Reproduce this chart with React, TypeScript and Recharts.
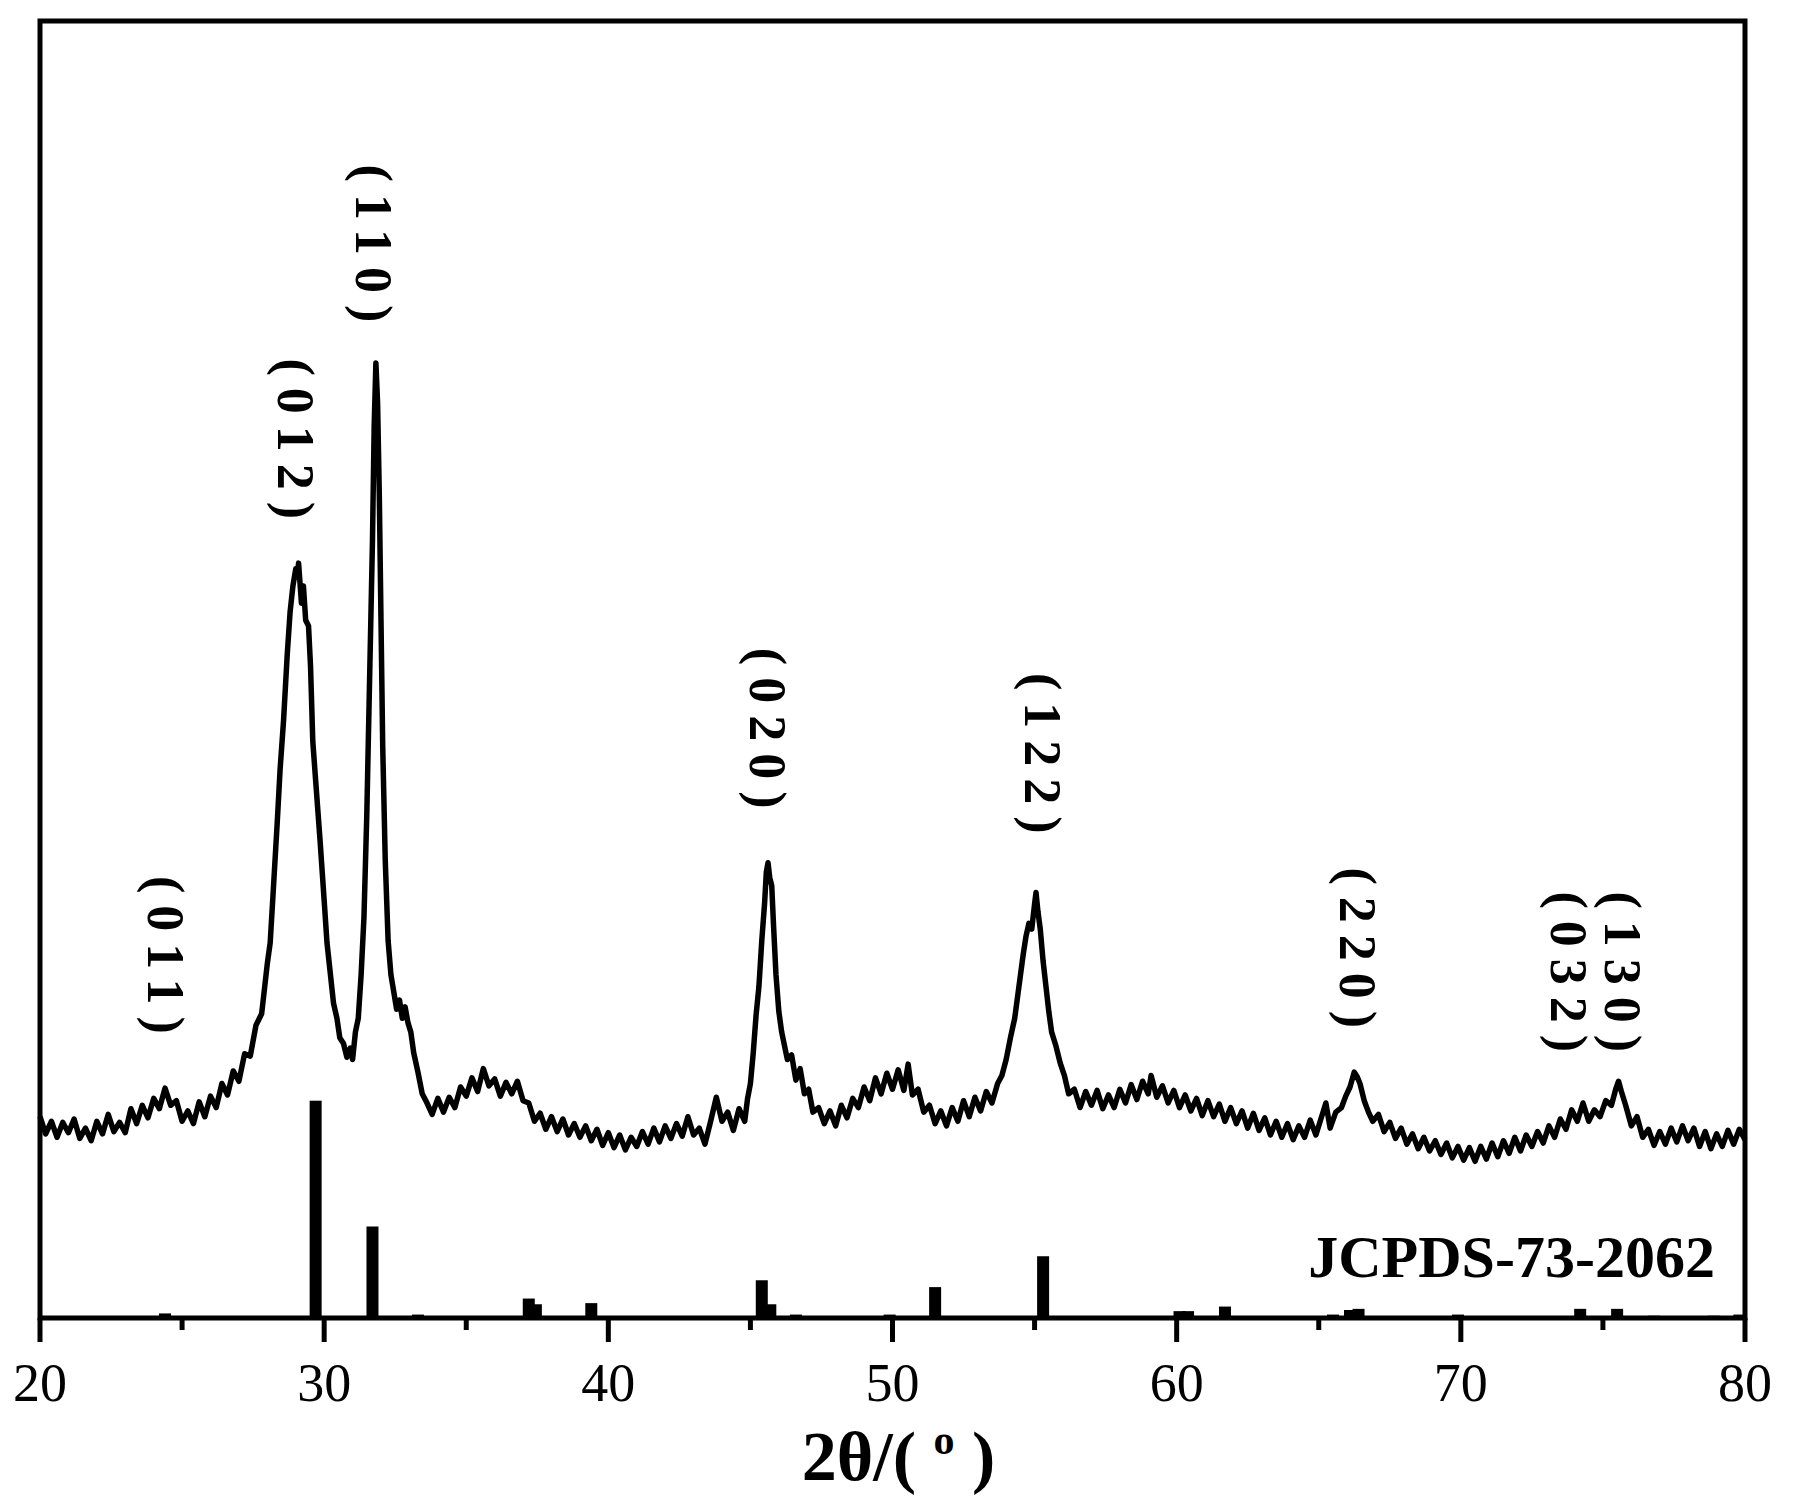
import { Bar, ComposedChart, Line, ReferenceArea, Scatter, XAxis, YAxis } from "recharts";

// measured XRD scan, 2θ (deg) vs intensity (a.u.)
const scanLow: [number, number][] = [
  [20.0, 176], [20.2, 161], [20.4, 172], [20.6, 158], [20.8, 171], [21.0, 162], [21.2, 174], [21.4, 157],
  [21.6, 166], [21.8, 155], [22.0, 172], [22.2, 161], [22.4, 178], [22.6, 163], [22.8, 171], [23.0, 162],
  [23.2, 183], [23.4, 170], [23.6, 186], [23.8, 175], [24.0, 192], [24.2, 183], [24.4, 201], [24.6, 186],
  [24.8, 190], [25.0, 172], [25.2, 181], [25.4, 170], [25.6, 189], [25.8, 176], [26.0, 194], [26.2, 184],
  [26.4, 205], [26.6, 195], [26.8, 216], [27.0, 207], [27.2, 231], [27.4, 229], [27.6, 256], [27.8, 266],
  [28.0, 310], [28.1, 328], [28.2, 370], [28.35, 434], [28.45, 480], [28.57, 522], [28.7, 580], [28.8, 617],
  [28.9, 640], [29.0, 655], [29.05, 648], [29.1, 660], [29.2, 625], [29.27, 640], [29.35, 610], [29.45, 605],
  [29.52, 570], [29.6, 504], [29.7, 470], [29.86, 416], [30.0, 365], [30.1, 328], [30.2, 305], [30.33, 275],
  [30.45, 262], [30.55, 245], [30.68, 240], [30.8, 228], [30.92, 236], [31.0, 226], [31.1, 250], [31.2, 262],
  [31.3, 300], [31.4, 350], [31.5, 440], [31.6, 560], [31.7, 680], [31.76, 780], [31.82, 835], [31.88, 800],
  [31.94, 720], [32.0, 610], [32.06, 500], [32.15, 400], [32.25, 330], [32.35, 300], [32.45, 285], [32.55, 270],
  [32.65, 278], [32.75, 262], [32.85, 272], [32.95, 258], [33.05, 250], [33.15, 232], [33.3, 215], [33.45, 196],
];

const scanMid: [number, number][] = [
  [33.6, 189], [33.8, 178], [34.0, 192], [34.2, 180], [34.4, 193], [34.6, 184], [34.8, 202], [35.0, 194],
  [35.2, 210], [35.4, 198], [35.6, 218], [35.8, 203], [36.0, 209], [36.2, 194], [36.4, 206], [36.6, 196],
  [36.8, 207], [37.0, 190], [37.2, 188], [37.4, 172], [37.6, 179], [37.8, 165], [38.0, 176], [38.2, 163],
  [38.4, 174], [38.6, 160], [38.8, 170], [39.0, 158], [39.2, 168], [39.4, 155], [39.6, 165], [39.8, 151],
  [40.0, 162], [40.2, 149], [40.4, 160], [40.6, 147], [40.8, 158], [41.0, 150], [41.2, 163], [41.4, 152],
  [41.6, 166], [41.8, 154], [42.0, 168], [42.2, 157], [42.4, 170], [42.6, 159], [42.8, 176], [43.0, 160],
  [43.2, 166], [43.4, 152], [43.6, 172], [43.8, 193], [44.0, 172], [44.2, 180], [44.4, 164], [44.6, 183],
  [44.8, 172], [44.9, 192], [45.0, 205], [45.1, 232], [45.2, 265], [45.3, 290], [45.4, 330], [45.5, 363],
  [45.56, 390], [45.62, 398], [45.68, 385], [45.75, 378], [45.82, 340], [45.9, 300], [46.0, 268], [46.1, 250],
  [46.2, 238], [46.3, 226], [46.45, 230], [46.6, 208], [46.75, 218], [46.9, 196], [47.05, 200], [47.2, 180],
  [47.4, 184], [47.6, 170], [47.8, 181], [48.0, 168], [48.2, 186], [48.4, 175], [48.6, 192], [48.8, 184],
  [49.0, 202], [49.2, 190], [49.4, 210], [49.6, 196], [49.8, 214], [50.0, 200], [50.2, 217], [50.4, 199],
  [50.55, 222], [50.7, 195], [50.9, 200], [51.1, 180], [51.3, 186], [51.5, 170], [51.7, 181], [51.9, 168],
  [52.1, 184], [52.3, 172], [52.5, 190], [52.7, 176], [52.9, 193], [53.1, 181], [53.3, 198], [53.5, 188],
  [53.7, 205], [53.85, 212], [54.0, 226], [54.15, 245], [54.3, 262], [54.45, 290], [54.6, 318], [54.7, 334],
  [54.8, 345], [54.9, 340], [55.0, 362], [55.05, 372], [55.12, 355], [55.2, 340], [55.3, 312], [55.4, 290],
  [55.5, 268], [55.6, 250], [55.75, 238], [55.9, 223], [56.05, 212],
];

const scanHigh: [number, number][] = [
  [56.2, 196], [56.4, 200], [56.6, 184], [56.8, 198], [57.0, 186], [57.2, 199], [57.4, 183], [57.6, 195],
  [57.8, 184], [58.0, 200], [58.2, 188], [58.4, 204], [58.6, 191], [58.8, 207], [59.0, 196], [59.1, 212],
  [59.3, 193], [59.5, 203], [59.7, 188], [59.9, 199], [60.1, 184], [60.3, 195], [60.5, 181], [60.7, 192],
  [60.9, 177], [61.1, 190], [61.3, 176], [61.5, 187], [61.7, 172], [61.9, 184], [62.1, 170], [62.3, 181],
  [62.5, 166], [62.7, 179], [62.9, 164], [63.1, 175], [63.3, 160], [63.5, 172], [63.7, 158], [63.9, 170],
  [64.1, 156], [64.3, 168], [64.5, 158], [64.7, 173], [64.9, 160], [65.1, 176], [65.25, 188], [65.4, 166],
  [65.6, 180], [65.8, 184], [65.95, 194], [66.1, 202], [66.25, 215], [66.35, 211], [66.45, 205], [66.6, 190],
  [66.75, 180], [66.9, 172], [67.1, 178], [67.3, 163], [67.5, 171], [67.7, 157], [67.9, 166], [68.1, 152],
  [68.3, 161], [68.5, 148], [68.7, 158], [68.9, 146], [69.1, 155], [69.3, 143], [69.5, 153], [69.7, 140],
  [69.9, 150], [70.1, 138], [70.3, 149], [70.5, 137], [70.7, 150], [70.9, 139], [71.1, 153], [71.3, 141],
  [71.5, 155], [71.7, 144], [71.9, 158], [72.1, 146], [72.3, 160], [72.5, 150], [72.7, 163], [72.9, 153],
  [73.1, 168], [73.3, 158], [73.5, 174], [73.7, 165], [73.9, 182], [74.1, 172], [74.3, 188], [74.5, 172],
  [74.7, 182], [74.9, 176], [75.1, 190], [75.3, 186], [75.45, 200], [75.55, 207], [75.65, 198], [75.8, 186],
  [76.0, 168], [76.2, 176], [76.4, 158], [76.6, 165], [76.8, 151], [77.0, 163], [77.2, 152], [77.4, 166],
  [77.6, 154], [77.8, 168], [78.0, 155], [78.2, 166], [78.4, 150], [78.6, 163], [78.8, 148], [79.0, 161],
  [79.2, 150], [79.4, 164], [79.6, 152], [79.8, 165], [80.0, 156],
];

// JCPDS-73-2062 reference sticks
const refTheta = [24.4, 29.7, 31.7, 33.3, 37.2, 37.45, 39.4, 45.4, 45.7, 46.6, 49.9, 51.5, 55.3, 60.1, 60.4, 61.7, 65.5, 66.1, 66.4, 69.9, 74.2, 75.5, 76.8, 78.9, 79.8];
const refIntensity = [4, 190, 80, 3, 17, 12, 13, 33, 12, 3, 3, 27, 54, 6, 6, 10, 3, 7, 8, 3, 8, 8, 2, 2, 3];

// hkl annotations: 2θ and the level where the label ends
const hklNames = ["(011)", "(012)", "(110)", "(020)", "(122)", "(220)", "(032)", "(130)"];
const hklTheta = [24.43, 29.0, 31.75, 45.6, 55.28, 66.36, 73.78, 75.68];
const hklLevel = [238, 688, 860, 435, 413, 243, 222, 222];

const cardName = "JCPDS-73-2062";
const xTicks = [20, 25, 30, 35, 40, 45, 50, 55, 60, 65, 70, 75, 80];
const majorTicks = [20, 30, 40, 50, 60, 70, 80];

const FONT = "'Liberation Serif', 'Times New Roman', serif";

const scanData = [...scanLow, ...scanMid, ...scanHigh].map(([x, intensity]) => ({ x, intensity }));
const refData = refTheta.map((x, i) => ({ x, ref: refIntensity[i] }));
const hklData = hklNames.map((hkl, i) => ({ x: hklTheta[i], y: hklLevel[i], hkl }));
const cardData = [{ x: 78.94, y: 36, name: cardName }];

function AxisTick(props: any) {
  const { x, y, payload } = props;
  const major = majorTicks.includes(payload.value);
  return (
    <g>
      <line x1={x} y1={y} x2={x} y2={y + (major ? 24 : 12)} stroke="#000" strokeWidth={5} />
      {major && (
        <text x={x} y={y + 83} textAnchor="middle" fontFamily={FONT} fontSize={54} fill="#000">
          {payload.value}
        </text>
      )}
    </g>
  );
}

function AxisTitle(props: any) {
  const { x, y, width } = props.viewBox;
  return (
    <text x={x + width / 2 + 6} y={y + 162} textAnchor="middle" fontFamily={FONT} fontSize={70} fontWeight="bold" fill="#000">
      {"2θ/( "}
      <tspan fontSize={42} dy={-26}>o</tspan>
      <tspan dy={26}>{" )"}</tspan>
    </text>
  );
}

function HklLabel(props: any) {
  const { cx, cy, payload } = props;
  return (
    <text
      x={cx}
      y={cy}
      transform={`rotate(90 ${cx} ${cy})`}
      textAnchor="end"
      dominantBaseline="central"
      fontFamily={FONT}
      fontSize={52}
      fontWeight="bold"
      letterSpacing={12}
      fill="#000"
    >
      {payload.hkl}
    </text>
  );
}

function CardLabel(props: any) {
  const { cx, cy, payload } = props;
  return (
    <text x={cx} y={cy} textAnchor="end" fontFamily={FONT} fontSize={60} fontWeight="bold" fill="#000">
      {payload.name}
    </text>
  );
}

function Stick(props: any) {
  const { x, y, width, height } = props;
  if (!height) return null;
  return <rect x={x + width / 2 - 6} y={y} width={12} height={height} fill="#000" />;
}

export default function App() {
  return (
    <div style={{ position: "absolute", left: 0, top: 0, width: 1793, height: 1510, background: "#fff" }}>
      <ComposedChart
        width={1793}
        height={1510}
        data={refData}
        margin={{ top: 21, right: 48, bottom: 2, left: 40 }}
      >
        <XAxis
          dataKey="x"
          type="number"
          domain={[20, 80]}
          ticks={xTicks}
          interval={0}
          axisLine={false}
          tickLine={false}
          tickSize={0}
          tickMargin={0}
          height={190}
          tick={<AxisTick />}
          label={{ content: (p: any) => <AxisTitle {...p} /> }}
        />
        <YAxis hide type="number" domain={[0, 1134]} allowDataOverflow />
        <ReferenceArea x1={20} x2={80} y1={0} y2={1134} fill="none" stroke="#000" strokeWidth={5} ifOverflow="visible" />
        <Bar dataKey="ref" shape={<Stick />} isAnimationActive={false} />
        <Line
          data={scanData}
          dataKey="intensity"
          type="linear"
          stroke="#000"
          strokeWidth={5.5}
          strokeLinejoin="round"
          dot={false}
          activeDot={false}
          isAnimationActive={false}
        />
        <Scatter data={hklData} dataKey="y" shape={<HklLabel />} isAnimationActive={false} />
        <Scatter data={cardData} dataKey="y" shape={<CardLabel />} isAnimationActive={false} />
      </ComposedChart>
    </div>
  );
}
